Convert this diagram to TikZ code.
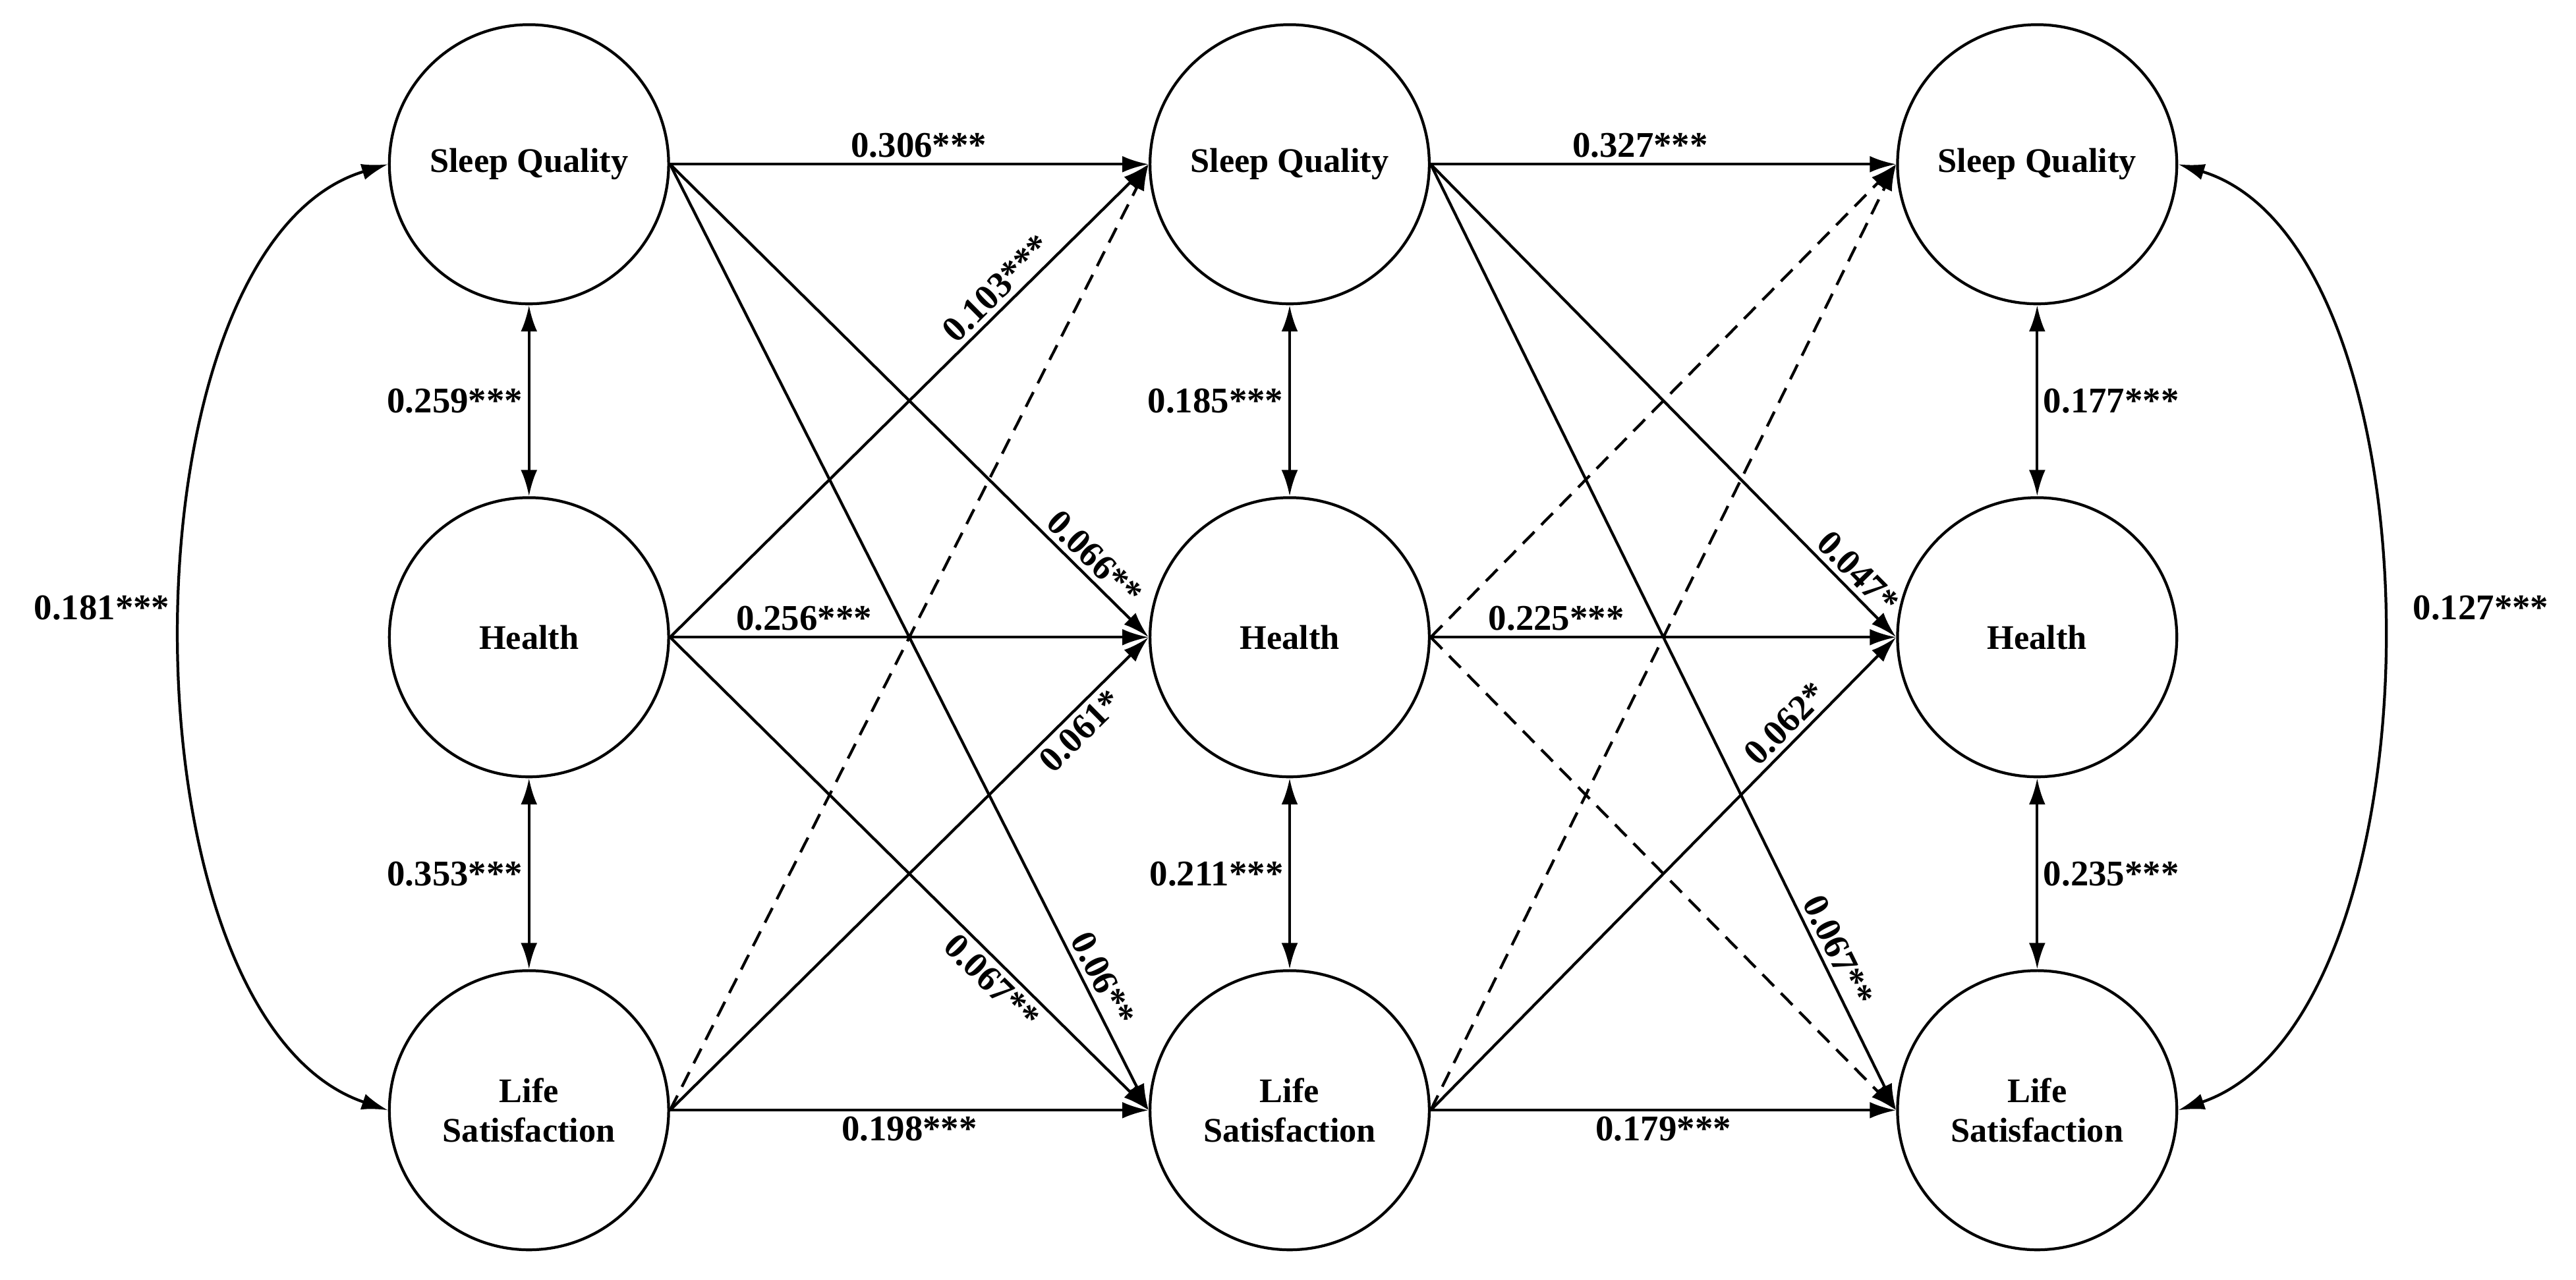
\documentclass[tikz,border=0pt]{standalone}
\usepackage{fontspec}
\setmainfont{Liberation Serif}
\usetikzlibrary{arrows.meta}
\begin{document}
\begin{tikzpicture}[x=1pt,y=-1pt,
  lat/.style={circle,draw,line width=1.7pt,minimum size=170pt,inner sep=0pt,align=center,font=\fontsize{21}{24}\selectfont\bfseries},
  pth/.style={line width=1.7pt,-{Latex[length=16pt,width=10pt]}},
  cov/.style={line width=1.7pt,{Latex[length=16pt,width=10pt]}-{Latex[length=16pt,width=10pt]}},
  dsh/.style={pth,dash pattern=on 10pt off 6pt},
  lb/.style={font=\fontsize{22}{24}\selectfont\bfseries,inner sep=3pt}]
\useasboundingbox (0,0) rectangle (1568,779);
\foreach \c/\x in {1/322,2/785,3/1240}{
  \node[lat] (S\c) at (\x,100) {Sleep Quality};
  \node[lat] (H\c) at (\x,388) {Health};
  \node[lat] (L\c) at (\x,676) {Life\\Satisfaction};
}
% horizontal
\draw[pth] (S1.east) -- node[lb,above,pos=0.52]{0.306***} (S2.west);
\draw[pth] (S2.east) -- node[lb,above,pos=0.45]{0.327***} (S3.west);
\draw[pth] (H1.east) -- node[lb,above,pos=0.28]{0.256***} (H2.west);
\draw[pth] (H2.east) -- node[lb,above,pos=0.27]{0.225***} (H3.west);
\draw[pth] (L1.east) -- node[lb,below,pos=0.5]{0.198***} (L2.west);
\draw[pth] (L2.east) -- node[lb,below,pos=0.5]{0.179***} (L3.west);
% diagonals col1
\draw[pth] (S1.east) -- node[lb,above,sloped,pos=0.86]{0.066**} (H2.west);
\draw[pth] (S1.east) -- node[lb,above,sloped,pos=0.87]{0.06**} (L2.west);
\draw[pth] (H1.east) -- node[lb,above,sloped,pos=0.71]{0.103***} (S2.west);
\draw[pth] (H1.east) -- node[lb,below,sloped,pos=0.7]{0.067**} (L2.west);
\draw[pth] (L1.east) -- node[lb,below,sloped,pos=0.83]{0.061*} (H2.west);
\draw[dsh] (L1.east) -- (S2.west);
% diagonals col2
\draw[pth] (S2.east) -- node[lb,above,sloped,pos=0.89]{0.047*} (H3.west);
\draw[pth] (S2.east) -- node[lb,above,sloped,pos=0.84]{0.067**} (L3.west);
\draw[pth] (L2.east) -- node[lb,above,sloped,pos=0.79]{0.062*} (H3.west);
\draw[dsh] (L2.east) -- (S3.west);
\draw[dsh] (H2.east) -- (S3.west);
\draw[dsh] (H2.east) -- (L3.west);
% covariances
\draw[cov] (S1) -- node[lb,left,pos=0.5]{0.259***} (H1);
\draw[cov] (H1) -- node[lb,left,pos=0.5]{0.353***} (L1);
\draw[cov] (S2) -- node[lb,left,pos=0.5]{0.185***} (H2);
\draw[cov] (H2) -- node[lb,left,pos=0.5]{0.211***} (L2);
\draw[cov] (S3) -- node[lb,right,pos=0.5]{0.177***} (H3);
\draw[cov] (H3) -- node[lb,right,pos=0.5]{0.235***} (L3);
\draw[cov] (S1.west) .. controls (70,150) and (70,620) .. (L1.west);
\draw[cov] (S3.east) .. controls (1490,150) and (1490,620) .. (L3.east);
\node[lb] (c1) at (62,370) {0.181***};
\node[lb] (c2) at (1510,370) {0.127***};
\end{tikzpicture}
\end{document}
